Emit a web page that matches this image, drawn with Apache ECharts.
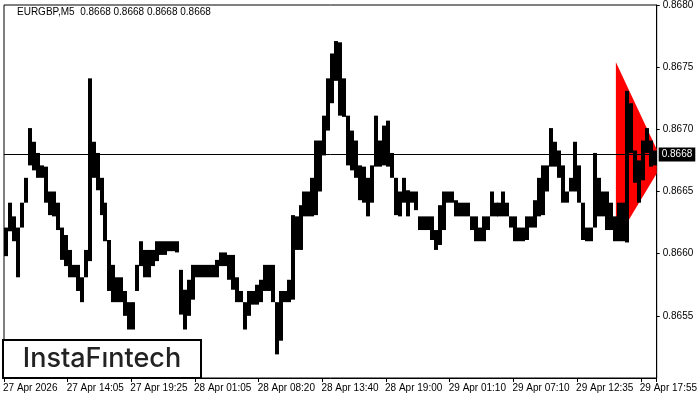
<!DOCTYPE html>
<html>
<head>
<meta charset="utf-8">
<script src="https://cdn.jsdelivr.net/npm/echarts@6/dist/echarts.min.js"></script>
<style>
  html, body { margin: 0; padding: 0; background: #fff; }
  #chart { width: 700px; height: 400px; }
</style>
</head>
<body>
<div id="chart"></div>
<script>
// EURGBP M5, one column = 4 bars (20 min)
const highs = [
  0.86621, 0.86641, 0.86630, 0.86621, 0.86641, 0.86661, 0.86701, 0.86690, 0.86681, 0.86671,
  0.86670, 0.86650, 0.86650, 0.86641, 0.86621, 0.86615, 0.86603, 0.86591, 0.86591, 0.86581,
  0.86603, 0.86741, 0.86690, 0.86681, 0.86661, 0.86641, 0.86611, 0.86591, 0.86581, 0.86581,
  0.86570, 0.86561, 0.86561, 0.86591, 0.86610, 0.86603, 0.86603, 0.86603, 0.86610, 0.86610,
  0.86610, 0.86610, 0.86610, 0.86610, 0.86587, 0.86571, 0.86579, 0.86591, 0.86591, 0.86591,
  0.86591, 0.86591, 0.86591, 0.86595, 0.86601, 0.86601, 0.86599, 0.86599, 0.86581, 0.86570,
  0.86561, 0.86570, 0.86570, 0.86575, 0.86579, 0.86591, 0.86591, 0.86591, 0.86561, 0.86570,
  0.86570, 0.86579, 0.86631, 0.86630, 0.86639, 0.86650, 0.86650, 0.86661, 0.86691, 0.86691,
  0.86711, 0.86741, 0.86761, 0.86771, 0.86770, 0.86741, 0.86711, 0.86699, 0.86691, 0.86671,
  0.86670, 0.86661, 0.86671, 0.86711, 0.86691, 0.86703, 0.86707, 0.86681, 0.86661, 0.86650,
  0.86661, 0.86651, 0.86650, 0.86650, 0.86630, 0.86630, 0.86630, 0.86630, 0.86619, 0.86639,
  0.86650, 0.86650, 0.86650, 0.86643, 0.86641, 0.86641, 0.86641, 0.86630, 0.86630, 0.86621,
  0.86630, 0.86630, 0.86650, 0.86641, 0.86641, 0.86650, 0.86641, 0.86630, 0.86630, 0.86621,
  0.86621, 0.86630, 0.86630, 0.86643, 0.86661, 0.86671, 0.86671, 0.86701, 0.86690, 0.86683,
  0.86671, 0.86650, 0.86661, 0.86690, 0.86671, 0.86641, 0.86621, 0.86621, 0.86681, 0.86661,
  0.86650, 0.86650, 0.86641, 0.86630, 0.86641, 0.86641, 0.86731, 0.86721, 0.86683, 0.86675,
  0.86691, 0.86701, 0.86691, 0.86683
];
const lows = [
  0.86598, 0.86618, 0.86610, 0.86581, 0.86621, 0.86641, 0.86671, 0.86667, 0.86661, 0.86661,
  0.86641, 0.86631, 0.86630, 0.86619, 0.86595, 0.86590, 0.86581, 0.86581, 0.86570, 0.86561,
  0.86581, 0.86594, 0.86661, 0.86651, 0.86631, 0.86610, 0.86570, 0.86561, 0.86561, 0.86561,
  0.86550, 0.86539, 0.86539, 0.86570, 0.86590, 0.86581, 0.86581, 0.86590, 0.86594, 0.86599,
  0.86599, 0.86602, 0.86602, 0.86601, 0.86551, 0.86539, 0.86550, 0.86563, 0.86581, 0.86581,
  0.86581, 0.86581, 0.86581, 0.86581, 0.86590, 0.86590, 0.86579, 0.86571, 0.86561, 0.86561,
  0.86539, 0.86550, 0.86559, 0.86559, 0.86561, 0.86570, 0.86570, 0.86561, 0.86519, 0.86530,
  0.86561, 0.86561, 0.86563, 0.86603, 0.86603, 0.86630, 0.86630, 0.86630, 0.86631, 0.86650,
  0.86679, 0.86699, 0.86721, 0.86739, 0.86711, 0.86710, 0.86671, 0.86667, 0.86661, 0.86643,
  0.86641, 0.86630, 0.86641, 0.86670, 0.86670, 0.86671, 0.86670, 0.86661, 0.86631, 0.86630,
  0.86641, 0.86630, 0.86641, 0.86635, 0.86619, 0.86619, 0.86619, 0.86611, 0.86603, 0.86607,
  0.86619, 0.86641, 0.86641, 0.86630, 0.86630, 0.86630, 0.86630, 0.86619, 0.86610, 0.86610,
  0.86610, 0.86619, 0.86630, 0.86630, 0.86630, 0.86630, 0.86630, 0.86621, 0.86610, 0.86610,
  0.86610, 0.86611, 0.86621, 0.86621, 0.86630, 0.86631, 0.86650, 0.86670, 0.86670, 0.86661,
  0.86641, 0.86641, 0.86650, 0.86650, 0.86641, 0.86611, 0.86610, 0.86610, 0.86621, 0.86630,
  0.86630, 0.86619, 0.86619, 0.86610, 0.86610, 0.86610, 0.86609, 0.86681, 0.86657, 0.86641,
  0.86659, 0.86681, 0.86670, 0.86671
];
const timeLabels = [
  '27 Apr 2026', '27 Apr 14:05', '27 Apr 19:25', '28 Apr 01:05', '28 Apr 08:20', '28 Apr 13:40',
  '28 Apr 19:00', '29 Apr 01:10', '29 Apr 07:10', '29 Apr 12:35', '29 Apr 17:55'
];
const labelEvery = 16;
const lastPrice = 0.8668;

// pennant: start column, top / bottom price, apex column and price
const pennantStart = 153.25;
const pennantTop = 0.86754;
const pennantBottom = 0.86610;
const pennantApexBar = 165.1;
const pennantApex = 0.86673;

const FONT = 'Liberation Sans';
const categories = highs.map((h, i) => i);

const chart = echarts.init(document.getElementById('chart'));

chart.setOption({
  animation: false,
  backgroundColor: '#fff',
  textStyle: { fontFamily: FONT },
  grid: { left: 3, right: 41, top: 3, bottom: 22, show: true, borderColor: '#000', borderWidth: 1 },
  xAxis: {
    type: 'category',
    data: categories,
    boundaryGap: true,
    axisLine: { show: true, lineStyle: { color: '#000', width: 1 } },
    axisTick: { show: true, length: 4, lineStyle: { color: '#000' }, interval: (i) => i % labelEvery === 0 },
    axisLabel: {
      interval: (i) => i % labelEvery === 0,
      formatter: (v, i) => timeLabels[i / labelEvery] || '',
      align: 'left',
      margin: 5,
      color: '#000',
      fontFamily: FONT,
      fontSize: 10,
      padding: [0, 0, 0, -3]
    },
    splitLine: { show: false }
  },
  yAxis: {
    type: 'value',
    position: 'right',
    min: 0.865,
    max: 0.868,
    interval: 0.0005,
    axisLine: { show: true, lineStyle: { color: '#000', width: 1 } },
    axisTick: { show: true, length: 3, lineStyle: { color: '#000' } },
    axisLabel: {
      showMinLabel: false,
      formatter: (v) => v.toFixed(4),
      color: '#000',
      margin: 6,
      fontFamily: FONT,
      fontSize: 10
    },
    splitLine: { show: false }
  },
  series: [
    {
      type: 'custom',
      name: 'pennant',
      z: 1,
      silent: true,
      data: [[0, pennantTop]],
      renderItem: function (params, api) {
        const cs = params.coordSys;
        const band = api.size([1, 0])[0];
        const x0 = api.coord([0, pennantTop])[0];
        const xs = x0 + pennantStart * band;
        const xa = x0 + pennantApexBar * band;
        const yT = api.coord([0, pennantTop])[1];
        const yB = api.coord([0, pennantBottom])[1];
        const yA = api.coord([0, pennantApex])[1];
        const right = cs.x + cs.width;
        let points;
        if (xa > right) {
          const t = (right - xs) / (xa - xs);
          points = [[xs, yT], [right, yT + t * (yA - yT)], [right, yB + t * (yA - yB)], [xs, yB]];
        } else {
          points = [[xs, yT], [xa, yA], [xs, yB]];
        }
        return { type: 'polygon', shape: { points: points }, style: { fill: '#ff0000' } };
      }
    },
    {
      type: 'custom',
      name: 'EURGBP',
      z: 2,
      data: highs.map((h, i) => [i, lows[i], h]),
      encode: { x: 0, y: [1, 2] },
      renderItem: function (params, api) {
        const k = api.value(0);
        const a = api.coord([k, api.value(2)]);
        const b = api.coord([k, api.value(1)]);
        const w = api.size([1, 0])[0];
        return {
          type: 'rect',
          shape: { x: Math.round(a[0] - w / 2), y: a[1], width: w, height: Math.max(1, b[1] - a[1]) },
          style: { fill: '#000' }
        };
      }
    },
    {
      // last price line with its axis box
      type: 'custom',
      name: 'last',
      z: 3,
      silent: true,
      data: [[0, lastPrice]],
      renderItem: function (params, api) {
        const cs = params.coordSys;
        const y = Math.round(api.coord([0, api.value(1)])[1]) + 0.5;
        return {
          type: 'group',
          children: [
            {
              type: 'line',
              shape: { x1: cs.x, y1: y, x2: cs.x + cs.width, y2: y },
              style: { stroke: '#000', lineWidth: 1 }
            },
            {
              type: 'text',
              x: cs.x + cs.width + 2,
              y: y,
              style: {
                text: lastPrice.toFixed(4),
                fill: '#fff',
                backgroundColor: '#000',
                padding: [2, 3, 2, 3],
                font: '10px "Liberation Sans"',
                verticalAlign: 'middle'
              }
            }
          ]
        };
      }
    }
  ],
  graphic: [
    {
      type: 'text',
      left: 17,
      top: 7,
      style: {
        text: 'EURGBP,M5  0.8668 0.8668 0.8668 0.8668',
        fill: '#000',
        font: '10px "Liberation Sans"'
      }
    },
    {
      type: 'group',
      z: 10,
      children: [
        {
          type: 'rect',
          shape: { x: 3, y: 340, width: 198, height: 38 },
          style: { fill: '#fff', stroke: '#000', lineWidth: 2 }
        },
        {
          type: 'text',
          x: 102,
          y: 359,
          style: {
            text: 'InstaFıntech',
            fill: '#222',
            font: '500 27px Inter',
            align: 'center',
            verticalAlign: 'middle'
          }
        }
      ]
    }
  ]
});
</script>
</body>
</html>
